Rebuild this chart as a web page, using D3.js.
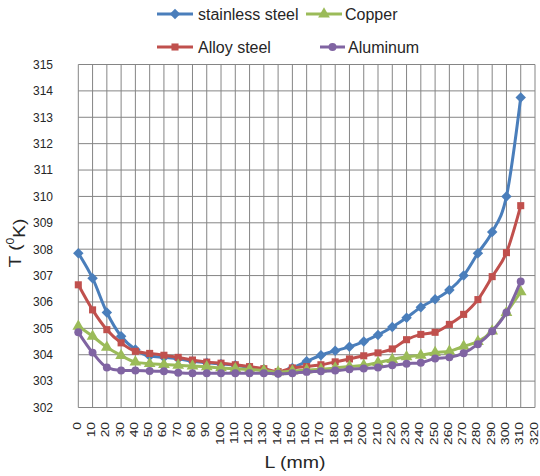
<!DOCTYPE html>
<html>
<head>
<meta charset="utf-8">
<script src="https://cdn.jsdelivr.net/npm/d3@7"></script>
<style>
  html, body { margin: 0; padding: 0; background: #fff; }
  svg { display: block; font-family: "Liberation Sans", Arial, sans-serif; }
</style>
</head>
<body>
<svg id="chart" width="540" height="476"></svg>
<script>
// Distance along the part (mm) – axis categories
const lengthCats = d3.range(0, 330, 10);            // 0 … 320
const tempTicks = d3.range(302, 316, 1);            // 302 … 315

// Temperature (K) at each station 0 … 310 mm
const stainlessSteel = [307.85, 306.9, 305.6, 304.7, 304.2, 303.95, 303.9, 303.85, 303.75, 303.7, 303.65, 303.6, 303.52, 303.45, 303.32, 303.5, 303.75, 303.98, 304.15, 304.3, 304.5, 304.75, 305.05, 305.4, 305.8, 306.1, 306.45, 307.0, 307.85, 308.65, 310.0, 313.75];
const alloySteel     = [306.65, 305.7, 304.95, 304.45, 304.13, 304.05, 303.98, 303.9, 303.8, 303.72, 303.68, 303.62, 303.55, 303.47, 303.36, 303.5, 303.55, 303.62, 303.73, 303.84, 303.96, 304.07, 304.22, 304.57, 304.77, 304.85, 305.15, 305.53, 306.09, 306.96, 307.87, 309.65];
const copper         = [305.08, 304.7, 304.28, 303.97, 303.72, 303.66, 303.63, 303.6, 303.57, 303.54, 303.5, 303.47, 303.44, 303.4, 303.34, 303.38, 303.42, 303.45, 303.5, 303.55, 303.6, 303.7, 303.82, 303.92, 303.98, 304.08, 304.13, 304.32, 304.5, 304.9, 305.6, 306.38];
const aluminum       = [304.85, 304.08, 303.52, 303.4, 303.4, 303.38, 303.37, 303.32, 303.3, 303.3, 303.3, 303.3, 303.3, 303.3, 303.28, 303.3, 303.35, 303.37, 303.4, 303.45, 303.48, 303.52, 303.6, 303.66, 303.7, 303.86, 303.9, 304.06, 304.4, 304.89, 305.6, 306.78];

const seriesNames  = ["stainless steel", "Copper", "Alloy steel", "Aluminum"];
const seriesValues = [stainlessSteel, copper, alloySteel, aluminum];
const seriesColors = ["#4a7ebb", "#9bbb59", "#c0504d", "#8064a2"];
const seriesSymbols = [d3.symbolDiamond2, d3.symbolTriangle, d3.symbolSquare, d3.symbolCircle];
const drawOrder = [0, 2, 1, 3];   // stainless, alloy, copper, aluminum

const svg = d3.select("#chart");
const plot = { left: 78.3, right: 535, top: 64.5, bottom: 407.5 };

const x = d3.scalePoint().domain(lengthCats).range([plot.left, plot.right]).padding(0);
const y = d3.scaleLinear().domain([302, 315]).range([plot.bottom, plot.top]);

const gridColor = "#858585";
const textColor = "#262626";

// horizontal grid lines
svg.append("g").selectAll("line").data(tempTicks).join("line")
  .attr("x1", plot.left).attr("x2", plot.right)
  .attr("y1", d => y(d)).attr("y2", d => y(d))
  .attr("stroke", gridColor).attr("stroke-width", 1);

// vertical grid lines
svg.append("g").selectAll("line").data(lengthCats).join("line")
  .attr("x1", d => x(d)).attr("x2", d => x(d))
  .attr("y1", plot.top).attr("y2", plot.bottom)
  .attr("stroke", gridColor).attr("stroke-width", 1);

// y axis tick labels
const yAxis = d3.axisLeft(y).tickValues(tempTicks).tickSize(0).tickPadding(0).tickFormat(d3.format("d"));
svg.append("g").attr("transform", `translate(53,0)`).call(yAxis)
  .call(g => g.select(".domain").remove())
  .call(g => g.selectAll("text").attr("font-size", 12).attr("fill", textColor)
    .attr("font-family", "'Liberation Sans', Arial, sans-serif"));

// x axis tick labels (rotated, reading bottom to top)
const xAxis = d3.axisBottom(x).tickSize(0).tickPadding(0);
svg.append("g").call(xAxis)
  .call(g => g.select(".domain").remove())
  .call(g => g.selectAll(".tick").attr("transform", d => `translate(${x(d) - 1},422)`))
  .call(g => g.selectAll("text")
    .attr("font-size", 10).attr("fill", textColor)
    .attr("font-family", "'Liberation Sans', Arial, sans-serif")
    .attr("text-anchor", "end").attr("x", 0).attr("y", 0).attr("dy", "0.35em")
    .attr("transform", "rotate(-90) scale(1.38,1)"));

// axis titles
svg.append("text").attr("x", 295).attr("y", 468).attr("text-anchor", "middle")
  .attr("font-size", 17).attr("fill", textColor)
  .attr("transform", "translate(295,0) scale(1.15,1) translate(-295,0)")
  .text("L (mm)");

const yTitle = svg.append("text").attr("text-anchor", "middle")
  .attr("font-size", 17).attr("fill", textColor)
  .attr("transform", "translate(21,243) rotate(-90) scale(1.12,1)");
yTitle.append("tspan").text("T (");
yTitle.append("tspan").attr("font-size", 11).attr("dy", "-0.6em").text("0");
yTitle.append("tspan").attr("dy", "0.6em").text("K)");

// series lines and markers
const line = d3.line()
  .x((d, i) => x(lengthCats[i]))
  .y(d => y(d))
  .curve(d3.curveMonotoneX);

const markerSize = [70, 60, 50, 50];

drawOrder.forEach(s => {
  const g = svg.append("g");
  g.append("path").datum(seriesValues[s])
    .attr("d", line).attr("fill", "none")
    .attr("stroke", seriesColors[s]).attr("stroke-width", 3)
    .attr("stroke-linejoin", "round");
  g.selectAll("path.m").data(seriesValues[s]).join("path").attr("class", "m")
    .attr("transform", (d, i) => `translate(${x(lengthCats[i])},${y(d)})`)
    .attr("d", d3.symbol().type(seriesSymbols[s]).size(markerSize[s]))
    .attr("fill", seriesColors[s]);
});

// legend
const legendItems = [
  { s: 0, x1: 157, x2: 193, tx: 198, y: 14 },
  { s: 1, x1: 306, x2: 342, tx: 345, y: 14 },
  { s: 2, x1: 157, x2: 193, tx: 198, y: 47 },
  { s: 3, x1: 320, x2: 345, tx: 348, y: 47 }
];
const lg = svg.append("g");
legendItems.forEach(it => {
  lg.append("line").attr("x1", it.x1).attr("x2", it.x2).attr("y1", it.y).attr("y2", it.y)
    .attr("stroke", seriesColors[it.s]).attr("stroke-width", 3);
  lg.append("path")
    .attr("transform", `translate(${(it.x1 + it.x2) / 2},${it.y})`)
    .attr("d", d3.symbol().type(seriesSymbols[it.s]).size(markerSize[it.s]))
    .attr("fill", seriesColors[it.s]);
  lg.append("text").attr("x", it.tx).attr("y", it.y).attr("dy", "0.35em")
    .attr("font-size", 16).attr("fill", textColor)
    .text(seriesNames[it.s]);
});
</script>
</body>
</html>
